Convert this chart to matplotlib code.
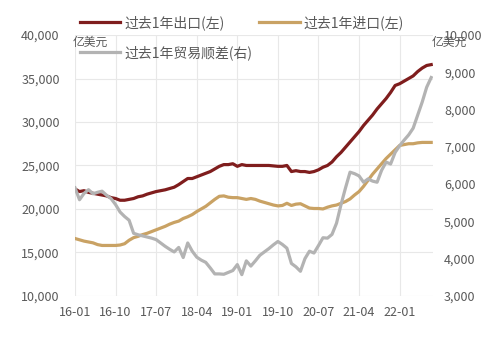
import numpy as np
import pandas as pd
import matplotlib
matplotlib.use("Agg")
import matplotlib.pyplot as plt

plt.rcParams['font.family'] = ['Noto Sans CJK SC', 'DejaVu Sans']
plt.rcParams['font.size'] = 9

# monthly, 2016-01 .. 2022-08, rolling 12-month totals (亿美元)
months = pd.date_range("2016-01-01", periods=80, freq="MS")

exports = [
    22300, 22000, 22100, 21900, 21800, 21700, 21600, 21500, 21300, 21200,
    21000, 21000, 21100, 21200, 21400, 21500, 21700, 21850, 22000, 22100,
    22200, 22350, 22500, 22800, 23150, 23500, 23500, 23700, 23900, 24100,
    24300, 24600, 24900, 25100, 25100, 25200, 24900, 25100, 25000, 25000,
    25000, 25000, 25000, 25000, 24950, 24900, 24900, 25000, 24300, 24400,
    24300, 24300, 24200, 24300, 24500, 24800, 25000, 25400, 26000, 26500,
    27100, 27700, 28300, 28900, 29600, 30200, 30800, 31500, 32100, 32700,
    33400, 34200, 34400, 34700, 35000, 35300, 35800, 36200, 36500, 36600,
]

imports = [
    16600, 16450, 16300, 16200, 16100, 15900, 15800, 15800, 15800, 15800,
    15850, 16000, 16400, 16700, 16850, 17050, 17200, 17400, 17600, 17800,
    18000, 18250, 18450, 18600, 18900, 19100, 19350, 19700, 20000, 20300,
    20700, 21100, 21450, 21500, 21350, 21300, 21300, 21200, 21100, 21200,
    21100, 20900, 20750, 20600, 20450, 20350, 20400, 20650, 20400, 20550,
    20600, 20350, 20100, 20050, 20050, 20000, 20200, 20350, 20450, 20650,
    20850, 21150, 21600, 22000, 22600, 23300, 24000, 24600, 25200, 25800,
    26300, 26800, 27300, 27400, 27500, 27500, 27600, 27650, 27650, 27650,
]

balance = [
    5900, 5580, 5750, 5850, 5740, 5780, 5810, 5700, 5610, 5450,
    5250, 5130, 5030, 4680, 4640, 4610, 4580, 4550, 4510, 4420,
    4330, 4250, 4180, 4300, 4030, 4420, 4200, 4040, 3960, 3900,
    3750, 3590, 3590, 3580, 3630, 3680, 3840, 3570, 3940, 3800,
    3940, 4090, 4180, 4270, 4370, 4460, 4380, 4280, 3870, 3780,
    3660, 4000, 4200, 4150, 4350, 4560, 4550, 4650, 4950, 5450,
    5900, 6320, 6280, 6220, 6050, 6140, 6080, 6050, 6370, 6590,
    6540, 6850, 7030, 7180, 7320, 7500, 7850, 8200, 8600, 8860,
]

tick_step = 9
c_exp = "#7f1d1d"
c_imp = "#c9a264"
c_bal = "#b3b3b3"
txt = "#595959"

x = np.arange(len(months))

fig = plt.figure(figsize=(5, 3.37), dpi=100)
ax = fig.add_axes([0.15, 0.122, 0.716, 0.774])
ax2 = ax.twinx()

l1, = ax.plot(x, exports, color=c_exp, lw=2.3, label="过去1年出口(左)")
l2, = ax.plot(x, imports, color=c_imp, lw=2.3, label="过去1年进口(左)")
l3, = ax2.plot(x, balance, color=c_bal, lw=2.3, label="过去1年贸易顺差(右)")

ax.set_ylim(10000, 40000)
ax.set_yticks(np.arange(10000, 40001, 5000))
ax.yaxis.set_major_formatter(matplotlib.ticker.StrMethodFormatter("{x:,.0f}"))
ax2.set_ylim(3000, 10000)
ax2.set_yticks(np.arange(3000, 10001, 1000))
ax2.yaxis.set_major_formatter(matplotlib.ticker.StrMethodFormatter("{x:,.0f}"))

ax.set_xlim(0, 79.4)
ticks = x[::tick_step]
ax.set_xticks(ticks)
ax.set_xticklabels([m.strftime("%y-%m") for m in months[::tick_step]])

ax.grid(True, color="#e8e8e8", lw=0.8)
ax.set_axisbelow(True)
for a in (ax, ax2):
    for s in a.spines.values():
        s.set_visible(False)
ax.tick_params(axis="both", length=0, colors=txt, labelsize=9)
ax.tick_params(axis="y", pad=11)
ax.tick_params(axis="x", pad=7)
ax2.tick_params(axis="y", length=0, colors=txt, labelsize=9, pad=8)

# unit labels above both y axes
fig.text(0.18, 0.875, "亿美元", color=txt, fontsize=8.5, ha="center", va="center")
fig.text(0.898, 0.875, "亿美元", color=txt, fontsize=8.5, ha="center", va="center")

fig.legend(handles=[l1, l3, l2], ncol=2, loc="upper left",
           bbox_to_anchor=(0.16, 0.955), frameon=False, fontsize=10,
           borderpad=0, borderaxespad=0,
           handlelength=2.9, handletextpad=0.3, columnspacing=0.5,
           labelspacing=1.1, labelcolor=txt)

fig.savefig("out.png", dpi=100)
